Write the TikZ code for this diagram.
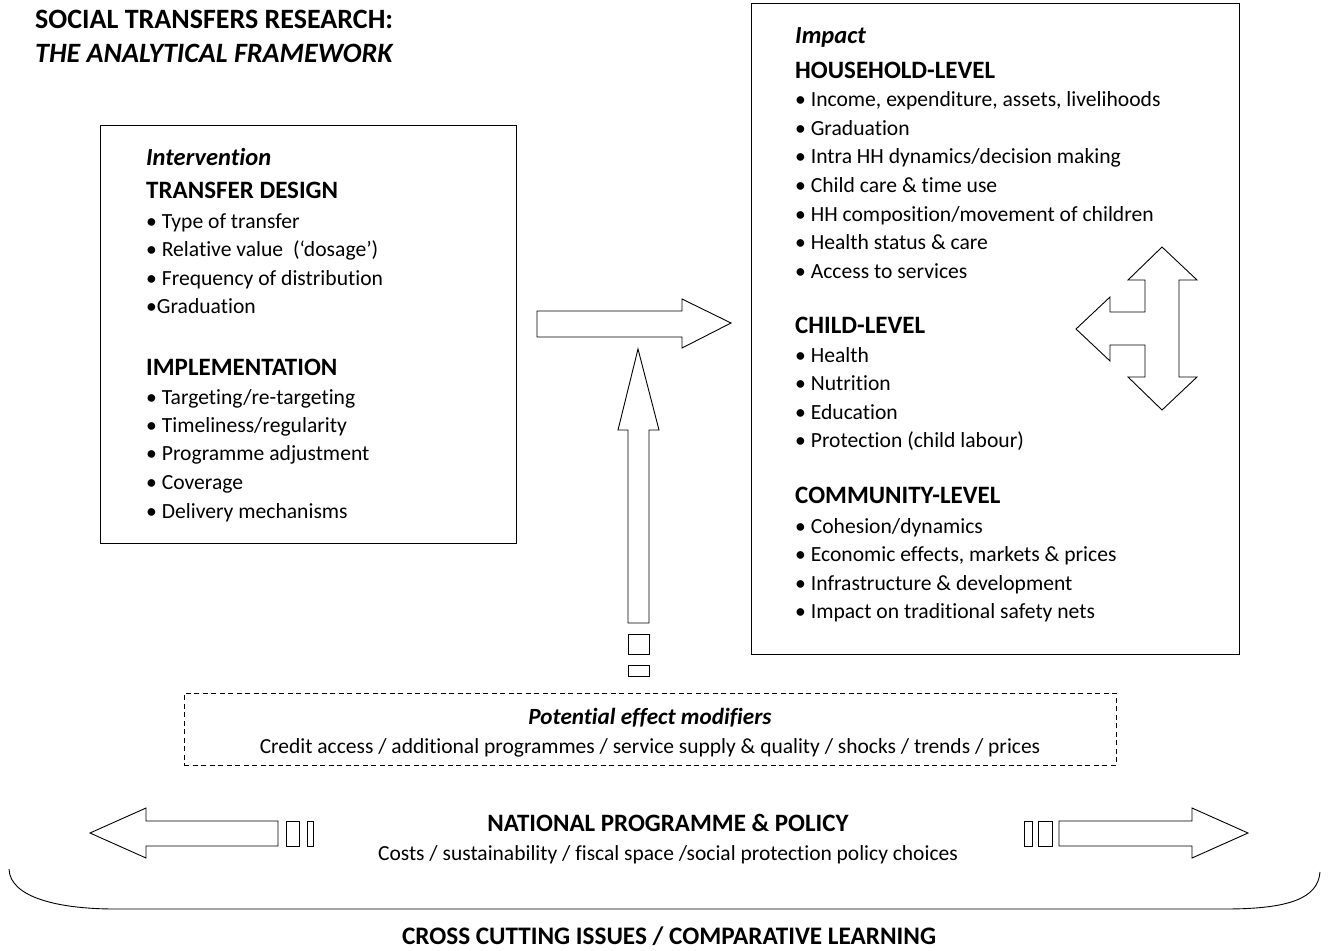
\documentclass[tikz,border=0pt]{standalone}
\usepackage{fontspec}
\setmainfont{Carlito}[Ligatures=NoCommon]
\begin{document}
\begin{tikzpicture}[x=1pt,y=-1pt,
  txt/.style={anchor=base west, inner sep=0pt, font=\fontsize{21.6}{26}\selectfont},
  ctxt/.style={anchor=base, inner sep=0pt, font=\fontsize{21.5}{26}\selectfont},
  head/.style={anchor=base west, inner sep=0pt, font=\fontsize{25}{30}\selectfont\bfseries},
  ihead/.style={anchor=base west, inner sep=0pt, font=\fontsize{24.5}{29}\selectfont\bfseries\itshape},
  titl/.style={anchor=base west, inner sep=0pt, font=\fontsize{28}{33}\selectfont\bfseries},
  frame/.style={draw, line width=1pt, inner sep=0pt},
  blockarrow/.style={draw, line width=0.9pt, fill=white, line join=miter},
]
\useasboundingbox (0,0) rectangle (1337,950);

% title
\node[titl] (t1) at (35,29) {SOCIAL TRANSFERS RESEARCH:};
\node[titl, font=\fontsize{28}{33}\selectfont\bfseries\itshape] (t2) at (35,63) {THE ANALYTICAL FRAMEWORK};

% left box
\node[frame, anchor=north west, minimum width=416pt, minimum height=418pt] (interv) at (100,125) {};
\node[ihead] (iv) at (146,165) {Intervention};
\node[head] (td) at (146,198) {TRANSFER DESIGN};
\node[txt] (l1) at (146,228) {• Type of transfer};
\node[txt] (l2) at (146,256) {• Relative value\ \ (‘dosage’)};
\node[txt] (l3) at (146,285) {• Frequency of distribution};
\node[txt] (l4) at (146,313) {•Graduation};
\node[head] (im) at (146,375) {IMPLEMENTATION};
\node[txt] (l5) at (146,404) {• Targeting/re-targeting};
\node[txt] (l6) at (146,432) {• Timeliness/regularity};
\node[txt] (l7) at (146,460) {• Programme adjustment};
\node[txt] (l8) at (146,489) {• Coverage};
\node[txt] (l9) at (146,518) {• Delivery mechanisms};

% right box
\node[frame, anchor=north west, minimum width=488pt, minimum height=651pt] (impact) at (751,3) {};
\node[ihead] (ip) at (795,44) {Impact};
\node[head] (hh) at (795,78) {HOUSEHOLD-LEVEL};
\node[txt] (r1) at (795,106) {• Income, expenditure, assets, livelihoods};
\node[txt] (r2) at (795,135) {• Graduation};
\node[txt] (r3) at (795,163) {• Intra HH dynamics/decision making};
\node[txt] (r4) at (795,192) {• Child care \& time use};
\node[txt] (r5) at (795,221) {• HH composition/movement of children};
\node[txt] (r6) at (795,249) {• Health status \& care};
\node[txt] (r7) at (795,278) {• Access to services};
\node[head] (cl) at (795,333) {CHILD-LEVEL};
\node[txt] (r8) at (795,362) {• Health};
\node[txt] (r9) at (795,390) {• Nutrition};
\node[txt] (r10) at (795,419) {• Education};
\node[txt] (r11) at (795,447) {• Protection (child labour)};
\node[head] (co) at (795,503) {COMMUNITY-LEVEL};
\node[txt] (r12) at (795,533) {• Cohesion/dynamics};
\node[txt] (r13) at (795,561) {• Economic effects, markets \& prices};
\node[txt] (r14) at (795,590) {• Infrastructure \& development};
\node[txt] (r15) at (795,618) {• Impact on traditional safety nets};

% three-way arrow
\draw[blockarrow] (1162,247) -- (1197,280) -- (1179,280) -- (1179,377) -- (1197,377)
  -- (1162,410) -- (1128,377) -- (1145,377) -- (1145,345) -- (1110,345) -- (1110,361)
  -- (1076,329) -- (1110,297) -- (1110,312) -- (1145,312) -- (1145,280) -- (1128,280) -- cycle;

% right arrow between boxes
\draw[blockarrow] (537,311) -- (682,311) -- (682,299) -- (731,323) -- (682,348)
  -- (682,337) -- (537,337) -- cycle;

% up arrow
\draw[blockarrow] (628,623) -- (628,430) -- (618,430) -- (638,349) -- (659,430)
  -- (649,430) -- (649,623) -- cycle;
\draw[blockarrow] (628,634) rectangle (649,654);
\draw[blockarrow] (628,665) rectangle (649,676);

% dashed modifiers box
\node[draw, line width=0.8pt, dash pattern=on 5pt off 3.5pt, anchor=north west,
  minimum width=932pt, minimum height=72pt, inner sep=0pt] (mod) at (184,693) {};
\node[ctxt, font=\fontsize{23.2}{28}\selectfont\bfseries\itshape] (pm) at (650,724) {Potential effect modifiers};
\node[ctxt] (ca) at (650,753) {Credit access / additional programmes / service supply \& quality / shocks / trends / prices};

% national programme arrows
\draw[blockarrow] (278,821) -- (146,821) -- (146,808) -- (90,833) -- (146,858)
  -- (146,846) -- (278,846) -- cycle;
\draw[blockarrow] (286,821) rectangle (299,846);
\draw[blockarrow] (307,821) rectangle (313,846);
\draw[blockarrow] (1059,821) -- (1192,821) -- (1192,808) -- (1248,833) -- (1192,858)
  -- (1192,846) -- (1059,846) -- cycle;
\draw[blockarrow] (1038,821) rectangle (1052,846);
\draw[blockarrow] (1024,821) rectangle (1032,846);

\node[ctxt, font=\fontsize{25}{30}\selectfont\bfseries] (np) at (668,831) {NATIONAL PROGRAMME \& POLICY};
\node[ctxt] (cs) at (668,860) {Costs / sustainability / fiscal space /social protection policy choices};

% bracket curve
\draw[line width=0.9pt] (9,869) .. controls (10,898) and (60,909) .. (115,909) -- (1225,909)
  .. controls (1290,909) and (1318,898) .. (1320,872);

\node[ctxt, font=\fontsize{25.2}{30}\selectfont\bfseries] (cc) at (669,944) {CROSS CUTTING ISSUES / COMPARATIVE LEARNING};
\end{tikzpicture}
\end{document}
